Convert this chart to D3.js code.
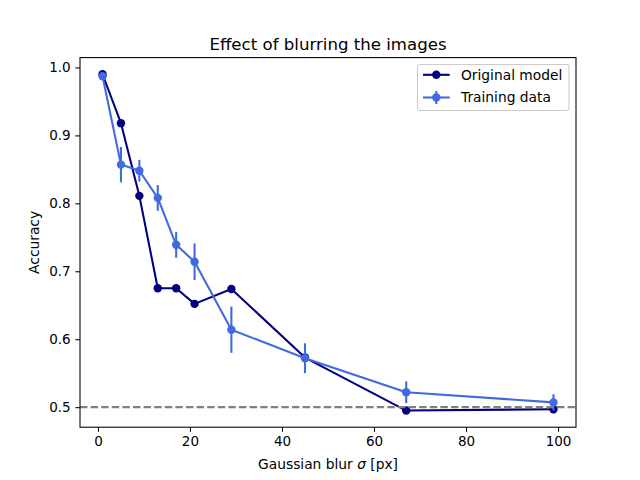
<!DOCTYPE html>
<html>
<head>
<meta charset="utf-8">
<script src="https://cdn.jsdelivr.net/npm/d3@7"></script>
<style>
  body { margin: 0; background: #fff; }
  svg text { font-family: "DejaVu Sans", sans-serif; fill: #000; }
</style>
</head>
<body>
<div id="chart-area"></div>
<script>
// blur sigma values (px)
var sigmas = [1, 5, 9, 13, 17, 21, 29, 45, 67, 99];
// accuracy of the original model
var originalAcc = [0.990, 0.918, 0.811, 0.675, 0.675, 0.652, 0.674, 0.573, 0.495, 0.497];
// accuracy with training data, plus error
var trainingAcc = [0.987, 0.857, 0.848, 0.808, 0.739, 0.714, 0.614, 0.572, 0.522, 0.507];
var trainingErr = [0.003, 0.026, 0.016, 0.019, 0.019, 0.027, 0.034, 0.022, 0.016, 0.012];
var xTicks = [0, 20, 40, 60, 80, 100];
var yTicks = [0.5, 0.6, 0.7, 0.8, 0.9, 1.0];
var chanceLevel = 0.5;
var seriesNames = ["Original model", "Training data"];

var W = 640, H = 480;
// note: "top" is a window global, so use other names
var pLeft = 80, pRight = 576, pTop = 57.6, pBottom = 427.2;

var svg = d3.select("#chart-area").append("svg")
	.attr("width", W)
	.attr("height", H);

var x = d3.scaleLinear().domain([-3.9, 103.9]).range([pLeft, pRight]);
var y = d3.scaleLinear().domain([0.4705, 1.0145]).range([pBottom, pTop]);

var navy = "#000080", blue = "#4169e1";
var lw = 2.08, r = 4.2;

// axes
var xAxis = d3.axisBottom(x).tickValues(xTicks).tickSizeOuter(0).tickSize(4.67).tickPadding(4.67)
	.tickFormat(d3.format("d"));
var yAxis = d3.axisLeft(y).tickValues(yTicks).tickSizeOuter(0).tickSize(4.67).tickPadding(4.67)
	.tickFormat(d3.format(".1f"));

var gx = svg.append("g").attr("transform", "translate(0," + pBottom + ")").call(xAxis);
var gy = svg.append("g").attr("transform", "translate(" + pLeft + ",0)").call(yAxis);
[gx, gy].forEach(function(g) {
	g.select(".domain").remove();
	g.selectAll(".tick line").attr("stroke", "#000").attr("stroke-width", 1.07);
	g.selectAll(".tick text").attr("font-size", 13.5).attr("font-family", "DejaVu Sans").attr("fill", "#000");
});

// plot lines
var line = d3.line().x(function(d) { return x(d[0]); }).y(function(d) { return y(d[1]); });
var origPts = d3.zip(sigmas, originalAcc);
var trainPts = d3.zip(sigmas, trainingAcc);

svg.append("path").attr("d", line(origPts)).attr("fill", "none").attr("stroke", navy)
	.attr("stroke-width", lw).attr("stroke-linejoin", "round");
svg.selectAll(".orig").data(origPts).enter().append("circle")
	.attr("cx", function(d) { return x(d[0]); }).attr("cy", function(d) { return y(d[1]); })
	.attr("r", r).attr("fill", navy);

svg.append("path").attr("d", line(trainPts)).attr("fill", "none").attr("stroke", blue)
	.attr("stroke-width", lw).attr("stroke-linejoin", "round");
svg.selectAll(".err").data(d3.range(sigmas.length)).enter().append("line")
	.attr("x1", function(i) { return x(sigmas[i]); }).attr("x2", function(i) { return x(sigmas[i]); })
	.attr("y1", function(i) { return y(trainingAcc[i] - trainingErr[i]); })
	.attr("y2", function(i) { return y(trainingAcc[i] + trainingErr[i]); })
	.attr("stroke", blue).attr("stroke-width", lw);
svg.selectAll(".train").data(trainPts).enter().append("circle")
	.attr("cx", function(d) { return x(d[0]); }).attr("cy", function(d) { return y(d[1]); })
	.attr("r", r).attr("fill", blue);

// chance level
svg.append("line").attr("x1", pLeft).attr("x2", pRight).attr("y1", y(chanceLevel)).attr("y2", y(chanceLevel))
	.attr("stroke", "#808080").attr("stroke-width", lw).attr("stroke-dasharray", "7.4,3.2");

// frame
svg.append("rect").attr("x", pLeft).attr("y", pTop).attr("width", pRight - pLeft).attr("height", pBottom - pTop)
	.attr("fill", "none").attr("stroke", "#000").attr("stroke-width", 1.07);

// titles
svg.append("text").attr("x", (pLeft + pRight) / 2).attr("y", 49.5).attr("text-anchor", "middle")
	.attr("font-size", 16.6).text("Effect of blurring the images");
var xl = svg.append("text").attr("x", (pLeft + pRight) / 2).attr("y", 469).attr("text-anchor", "middle")
	.attr("font-size", 13.8);
xl.append("tspan").text("Gaussian blur ");
xl.append("tspan").attr("font-style", "italic").text("σ");
xl.append("tspan").text(" [px]");
svg.append("text").attr("transform", "translate(39," + (pTop + pBottom) / 2 + ") rotate(-90)")
	.attr("text-anchor", "middle").attr("font-size", 13.8).text("Accuracy");

// legend
var lg = svg.append("g").attr("transform", "translate(417.5,64.5)");
lg.append("rect").attr("width", 151.5).attr("height", 46).attr("rx", 2.8)
	.attr("fill", "#fff").attr("fill-opacity", 0.8).attr("stroke", "#cccccc").attr("stroke-width", 1.07);
var colors = [navy, blue];
seriesNames.forEach(function(name, i) {
	var cy = 10.3 + i * 22.7;
	lg.append("line").attr("x1", 5.5).attr("x2", 32.2).attr("y1", cy).attr("y2", cy)
		.attr("stroke", colors[i]).attr("stroke-width", lw);
	if (i == 1) {
		lg.append("line").attr("x1", 18.8).attr("x2", 18.8).attr("y1", cy - 6.5).attr("y2", cy + 6.5)
			.attr("stroke", colors[i]).attr("stroke-width", lw);
	}
	lg.append("circle").attr("cx", 18.8).attr("cy", cy).attr("r", r).attr("fill", colors[i]);
	lg.append("text").attr("x", 43.5).attr("y", cy + 4.8).attr("font-size", 13.8).text(name);
});
</script>
</body>
</html>
